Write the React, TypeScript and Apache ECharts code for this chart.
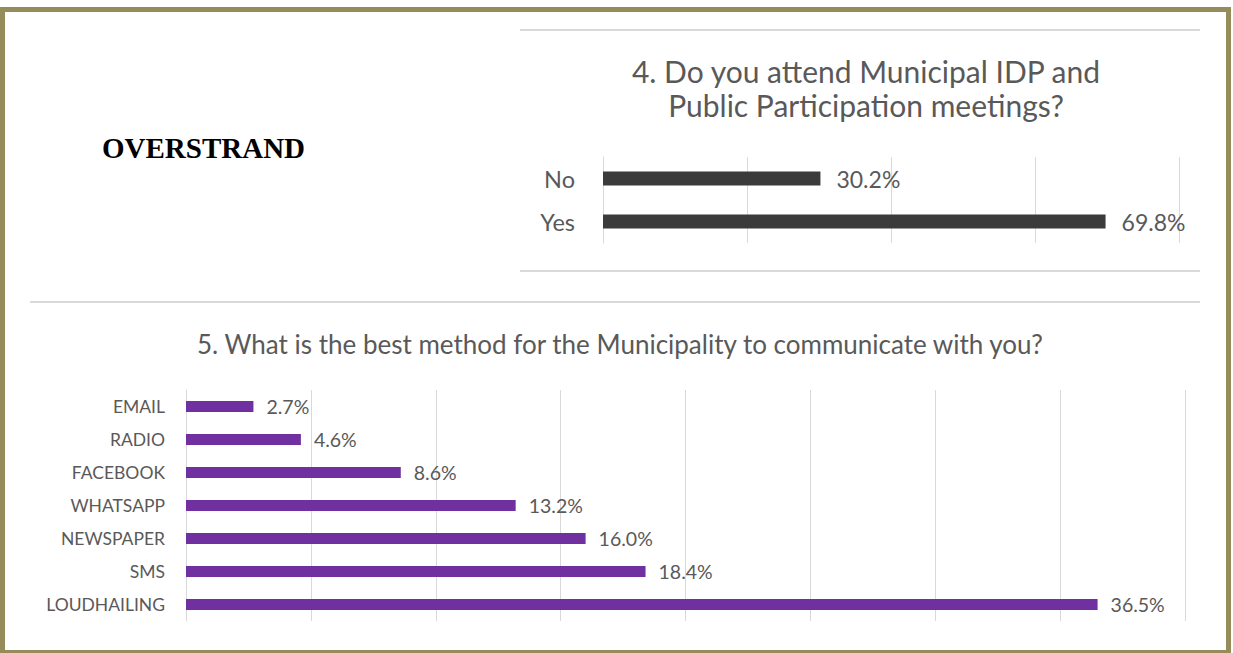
import React, { useEffect, useRef } from "react";
import * as echarts from "echarts";

const topCategories = ["No", "Yes"];
const topValues = [30.2, 69.8];
const topTitleLines = ["4. Do you attend Municipal IDP and", "Public Participation meetings?"];

const bottomCategories = ["EMAIL", "RADIO", "FACEBOOK", "WHATSAPP", "NEWSPAPER", "SMS", "LOUDHAILING"];
const bottomValues = [2.7, 4.6, 8.6, 13.2, 16.0, 18.4, 36.5];
const bottomTitle = "5. What is the best method for the Municipality to communicate with you?";

const sideLabel = "OVERSTRAND";

const FONT = "Lato, 'Open Sans', sans-serif";
const TXT = "#595959";
const GRID = "#d9d9d9";

export default function App() {
  const ref = useRef<HTMLDivElement>(null);
  useEffect(() => {
    const chart = echarts.init(ref.current!, undefined, { renderer: "svg" });
    chart.setOption({
      animation: false,
      backgroundColor: "#ffffff",
      textStyle: { fontFamily: FONT },
      grid: [
        { left: 603, top: 157, width: 576, height: 86 },
        { left: 186, top: 390, width: 999, height: 231 },
      ],
      xAxis: [
        {
          gridIndex: 0, type: "value", min: 0, max: 80, interval: 20,
          axisLabel: { show: false }, axisTick: { show: false }, axisLine: { show: false },
          splitLine: { lineStyle: { color: GRID, width: 1 } },
        },
        {
          gridIndex: 1, type: "value", min: 0, max: 40, interval: 5,
          axisLabel: { show: false }, axisTick: { show: false }, axisLine: { show: false },
          splitLine: { lineStyle: { color: GRID, width: 1 } },
        },
      ],
      yAxis: [
        {
          gridIndex: 0, type: "category", data: topCategories, inverse: true,
          axisTick: { show: false },
          axisLine: { show: true, lineStyle: { color: GRID } },
          axisLabel: { color: TXT, fontSize: 23.5, fontFamily: FONT, margin: 28 },
        },
        {
          gridIndex: 1, type: "category", data: bottomCategories, inverse: true,
          axisTick: { show: false },
          axisLine: { show: true, lineStyle: { color: GRID } },
          axisLabel: { color: TXT, fontSize: 17.5, fontFamily: FONT, margin: 21 },
        },
      ],
      series: [
        {
          type: "bar", xAxisIndex: 0, yAxisIndex: 0, data: topValues, barWidth: 14,
          itemStyle: { color: "#3b3b3b" },
          label: {
            show: true, position: "right", distance: 16, color: TXT, fontSize: 23, fontFamily: FONT,
            formatter: (p: any) => Number(p.value).toFixed(1) + "%",
          },
        },
        {
          type: "bar", xAxisIndex: 1, yAxisIndex: 1, data: bottomValues, barWidth: 11,
          itemStyle: { color: "#7030a0" },
          label: {
            show: true, position: "right", distance: 13, color: TXT, fontSize: 19.5, fontFamily: FONT,
            formatter: (p: any) => Number(p.value).toFixed(1) + "%",
          },
        },
      ],
      graphic: [
        {
          type: "rect", silent: true,
          shape: { x: 2.5, y: 9.5, width: 1226, height: 643 },
          style: { fill: "none", stroke: "#968c5a", lineWidth: 5 },
        },
        { type: "line", silent: true, shape: { x1: 520, y1: 30, x2: 1200, y2: 30 }, style: { stroke: GRID, lineWidth: 2 } },
        { type: "line", silent: true, shape: { x1: 520, y1: 271, x2: 1200, y2: 271 }, style: { stroke: GRID, lineWidth: 2 } },
        { type: "line", silent: true, shape: { x1: 30, y1: 302, x2: 1200, y2: 302 }, style: { stroke: GRID, lineWidth: 2 } },
        {
          type: "text", x: 866, y: 88, silent: true,
          style: {
            text: topTitleLines.join("\n"), fill: TXT, font: `30px ${FONT}`, lineHeight: 34,
            textAlign: "center", textVerticalAlign: "middle",
          },
        },
        {
          type: "text", x: 620, y: 344, silent: true,
          style: { text: bottomTitle, fill: TXT, font: `26px ${FONT}`, textAlign: "center", textVerticalAlign: "middle" },
        },
        {
          type: "text", x: 102, y: 148, silent: true,
          style: { text: sideLabel, fill: "#000000", font: `bold 29px 'Liberation Serif', 'Times New Roman', serif`, textAlign: "left", textVerticalAlign: "middle" },
        },
      ],
    });
    return () => chart.dispose();
  }, []);
  return (
    <div
      ref={ref}
      style={{ position: "absolute", left: 0, top: 0, width: 1233, height: 653, fontVariantLigatures: "none" }}
    />
  );
}
